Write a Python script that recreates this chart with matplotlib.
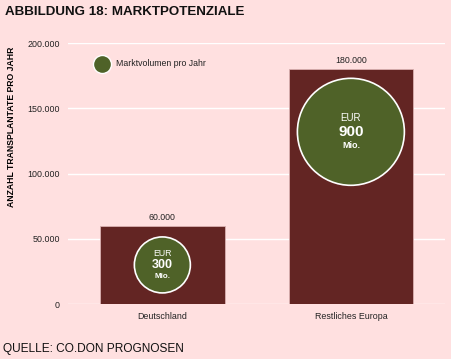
import matplotlib.pyplot as plt
from matplotlib.ticker import FuncFormatter

plt.rcParams['font.family'] = ['Liberation Sans', 'DejaVu Sans']

# data
regionen = ['Deutschland', 'Restliches Europa']
transplantate = [60000, 180000]
markt_mio = [300, 900]
kreis_y = [30000, 132000]       # circle centres (value units)
kreis_s = [1626, 5934]          # marker sizes (pt^2)
yticks = [0, 50000, 100000, 150000, 200000]

bg = '#FFE0E0'
rot = '#632523'
gruen = '#4F6228'

def de_fmt(v, pos=None):
    return f'{int(v):,}'.replace(',', '.')

fig = plt.figure(figsize=(4.51, 3.59), dpi=100, facecolor=bg)
ax = fig.add_axes([0.151, 0.153, 0.836, 0.727], facecolor=bg)

x = range(len(regionen))
ax.bar(x, transplantate, width=0.66, color=rot, edgecolor='#D9B0B0', linewidth=0.6, zorder=2)

for i, v in enumerate(transplantate):
    ax.annotate(de_fmt(v), (i, v), xytext=(0, 3), textcoords='offset points',
                ha='center', va='bottom', fontsize=6.3, color='#222222')

ax.scatter(list(x), kreis_y, s=kreis_s, color=gruen, edgecolor='white', linewidth=1.2, zorder=3)

groesse = [(6.3, 9, 5.8, 9000), (7, 11, 6.5, 10800)]
for i, m in enumerate(markt_mio):
    f1, f2, f3, d = groesse[i]
    ax.text(i, kreis_y[i] + d, 'EUR', ha='center', va='center', color='white', fontsize=f1, zorder=4)
    ax.text(i, kreis_y[i], str(m), ha='center', va='center', color='white', fontsize=f2,
            fontweight='bold', zorder=4)
    ax.text(i, kreis_y[i] - d, 'Mio.', ha='center', va='center', color='white', fontsize=f3,
            fontweight='bold', zorder=4)

# legend
ax.scatter([-0.32], [184000], s=169, color=gruen, edgecolor='white', linewidth=1, zorder=3, clip_on=False)
ax.text(-0.245, 184000, 'Marktvolumen pro Jahr', ha='left', va='center', fontsize=6.3, color='#222222')

ax.set_xlim(-0.5, 1.5)
ax.set_ylim(0, 200000)
ax.set_yticks(yticks)
ax.yaxis.set_major_formatter(FuncFormatter(de_fmt))
ax.set_xticks(list(x))
ax.set_xticklabels(regionen)
ax.tick_params(axis='both', length=0, labelsize=6.4, colors='#222222', pad=6)
ax.grid(axis='y', color='white', linewidth=1, zorder=0)
ax.set_axisbelow(True)
for s in ax.spines.values():
    s.set_visible(False)

ax.set_ylabel('ANZAHL TRANSPLANTATE PRO JAHR', fontsize=6.2, fontweight='bold')
ax.yaxis.set_label_coords(-0.138, 0.68)

fig.text(0.011, 0.966, 'ABBILDUNG 18: MARKTPOTENZIALE', fontsize=9.6, fontweight='bold',
         ha='left', va='center', color='#111111')
fig.text(0.007, 0.028, 'QUELLE: CO.DON PROGNOSEN', fontsize=8.6, ha='left', va='center', color='#111111')

fig.savefig('out.png', dpi=100, facecolor=bg)
